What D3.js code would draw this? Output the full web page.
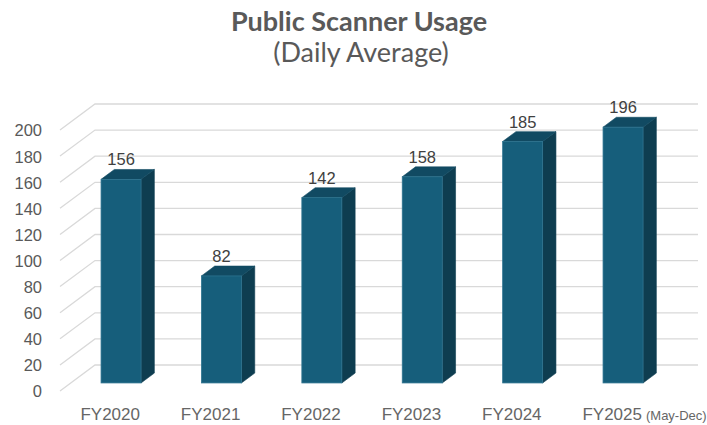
<!DOCTYPE html>
<html>
<head>
<meta charset="utf-8">
<script src="https://cdn.jsdelivr.net/npm/d3@7"></script>
<style>
  body { margin: 0; background: #fff; }
</style>
</head>
<body>
<div class="chart"></div>
<script>
var svgWidth = 707;
var svgHeight = 425;

// data
var categories = ["FY2020", "FY2021", "FY2022", "FY2023", "FY2024", "FY2025"];
var categoryNotes = ["", "", "", "", "", "(May-Dec)"];
var usage = [156, 82, 142, 158, 185, 196];
var yTicks = [0, 20, 40, 60, 80, 100, 120, 140, 160, 180, 200];

// oblique depth of the 3d box
var depthX = 35;
var depthY = -26;
var barFront = 0.31;
var barBack = 0.69;

var svg = d3.select(".chart")
    .append("svg")
    .attr("width", svgWidth)
    .attr("height", svgHeight);

var xBandScale = d3.scaleBand()
    .domain(categories)
    .range([60, 662.4]);
var barWidth = 40;

var yLinearScale = d3.scaleLinear()
    .domain([0, 200])
    .range([391, 130]);

// title
svg.append("text")
    .attr("x", 359)
    .attr("y", 31)
    .attr("text-anchor", "middle")
    .style("font", "bold 27px Lato, 'Open Sans', sans-serif")
    .style("fill", "#595959")
    .text("Public Scanner Usage");
svg.append("text")
    .attr("x", 361)
    .attr("y", 62)
    .attr("text-anchor", "middle")
    .style("font", "27px Lato, 'Open Sans', sans-serif")
    .style("fill", "#595959")
    .text("(Daily Average)");

// gridlines: side wall diagonal + back wall line
svg.append("g")
    .selectAll("path")
    .data(yTicks)
    .enter()
    .append("path")
    .attr("d", function(v) {
        var y = yLinearScale(v);
        return "M60," + y + "L" + (60 + depthX) + "," + (y + depthY) + "L698," + (y + depthY);
    })
    .attr("fill", "none")
    .attr("stroke", "#d9d9d9")
    .attr("stroke-width", 1.3);

// y axis labels
var leftAxis = d3.axisLeft(yLinearScale)
    .tickValues(yTicks)
    .tickSize(0)
    .tickPadding(18);
var yAxisG = svg.append("g")
    .attr("transform", "translate(60,0.7)")
    .call(leftAxis);
yAxisG.select(".domain").remove();
yAxisG.selectAll("text")
    .style("font", "16.5px 'Liberation Sans', Arial, sans-serif")
    .style("fill", "#595959");

// bars
function barX(c, d) {
    return xBandScale(c) + xBandScale.bandwidth() / 2 - barWidth / 2 + depthX * d;
}
function barY(v, d) {
    return yLinearScale(v) + depthY * d;
}

var bars = svg.append("g")
    .selectAll("g")
    .data(usage)
    .enter()
    .append("g");

// right side face
bars.append("path")
    .attr("d", function(v, i) {
        var c = categories[i];
        var x0 = barX(c, barFront) + barWidth, x1 = barX(c, barBack) + barWidth;
        return "M" + x0 + "," + barY(v, barFront) + "L" + x1 + "," + barY(v, barBack) +
            "L" + x1 + "," + barY(0, barBack) + "L" + x0 + "," + barY(0, barFront) + "Z";
    })
    .attr("fill", "#0e3d50")
    .attr("stroke", "#0e3d50")
    .attr("stroke-width", 0.6);

// top face
bars.append("path")
    .attr("d", function(v, i) {
        var c = categories[i];
        var xf = barX(c, barFront), xb = barX(c, barBack);
        var yf = barY(v, barFront), yb = barY(v, barBack);
        return "M" + xf + "," + yf + "L" + xb + "," + yb + "L" + (xb + barWidth) + "," + yb +
            "L" + (xf + barWidth) + "," + yf + "Z";
    })
    .attr("fill", "#114a62")
    .attr("stroke", "#114a62")
    .attr("stroke-width", 0.6);

// front face
bars.append("rect")
    .attr("x", function(v, i) { return barX(categories[i], barFront); })
    .attr("y", function(v) { return barY(v, barFront); })
    .attr("width", barWidth)
    .attr("height", function(v) { return barY(0, barFront) - barY(v, barFront); })
    .attr("fill", "#165e7b")
    .attr("stroke", "#2f7490")
    .attr("stroke-width", 0.8);

// value labels
svg.append("g")
    .selectAll("text")
    .data(usage)
    .enter()
    .append("text")
    .attr("text-anchor", "middle")
    .attr("x", function(v, i) { return barX(categories[i], barFront) + barWidth / 2; })
    .attr("y", function(v) { return barY(v, barBack) - 4; })
    .style("font", "16.5px 'Liberation Sans', Arial, sans-serif")
    .style("fill", "#404040")
    .text(function(v) { return v; });

// category labels
var catLabels = svg.append("g")
    .selectAll("text")
    .data(categories)
    .enter()
    .append("text")
    .attr("text-anchor", "middle")
    .attr("x", function(c) { return xBandScale(c) + xBandScale.bandwidth() / 2; })
    .attr("y", 420)
    .style("font", "17px 'Liberation Sans Narrow', 'Arial Narrow', sans-serif")
    .style("fill", "#666666")
    .text(function(c) { return c; });

catLabels.each(function(c, i) {
    if (!categoryNotes[i]) return;
    var bbox = this.getBBox();
    svg.append("text")
        .attr("x", bbox.x + bbox.width + 4)
        .attr("y", 420)
        .style("font", "13px 'Liberation Sans Narrow', 'Arial Narrow', sans-serif")
        .style("fill", "#666666")
        .text(categoryNotes[i]);
});
</script>
</body>
</html>
